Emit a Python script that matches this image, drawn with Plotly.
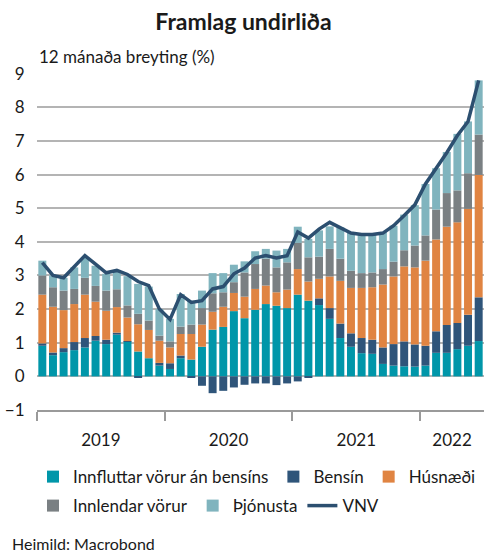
import plotly.graph_objects as go

months = list(range(42))  # Jan 2019 .. Jun 2022
year_labels = ["2019", "2020", "2021", "2022"]
year_centers = [5.5, 17.5, 29.5, 38.5]
year_bounds = [-0.5, 11.5, 23.5, 35.5]

innflutt = [0.91, 0.63, 0.72, 0.78, 0.86, 1.06, 0.96, 1.24, 1.04, 0.74, 0.54, 0.32,
            0.22, 0.54, 0.50, 0.88, 1.39, 1.47, 1.94, 1.73, 1.98, 2.15, 2.10, 2.03,
            2.43, 2.25, 2.12, 1.71, 1.14, 0.88, 0.69, 0.67, 0.37, 0.32, 0.30, 0.29,
            0.32, 0.70, 0.70, 0.81, 0.91, 1.05]
bensin = [0.07, 0.08, 0.12, 0.24, 0.28, 0.14, 0.13, 0.06, 0.01, -0.03, 0.0, 0.08,
          0.17, 0.08, -0.03, -0.28, -0.50, -0.43, -0.33, -0.25, -0.21, -0.21, -0.26, -0.21,
          -0.15, -0.02, 0.20, 0.32, 0.43, 0.40, 0.45, 0.42, 0.49, 0.64, 0.74, 0.66,
          0.59, 0.64, 0.83, 0.78, 0.92, 1.30]
husnaedi = [1.45, 1.36, 1.13, 1.13, 1.29, 1.02, 0.86, 0.76, 0.70, 0.81, 0.84, 0.66,
            0.47, 0.64, 0.76, 0.66, 0.53, 0.60, 0.54, 0.64, 0.62, 0.55, 0.40, 0.55,
            0.76, 0.57, 0.58, 0.94, 1.27, 1.35, 1.49, 1.56, 1.87, 2.01, 2.23, 2.29,
            2.53, 2.73, 2.92, 2.99, 3.15, 3.64]
innlendar = [0.57, 0.58, 0.58, 0.45, 0.50, 0.47, 0.60, 0.53, 0.36, 0.31, 0.28, 0.15,
             0.18, 0.22, 0.28, 0.49, 0.55, 0.43, 0.32, 0.72, 0.74, 0.80, 0.74, 0.81,
             0.78, 0.72, 0.66, 0.82, 0.66, 0.51, 0.44, 0.44, 0.46, 0.44, 0.48, 0.65,
             0.75, 0.89, 1.00, 0.95, 1.06, 1.20]
thjonusta = [0.44, 0.35, 0.38, 0.64, 0.59, 0.60, 0.50, 0.55, 0.87, 0.89, 1.01, 0.79,
             0.67, 0.97, 0.71, 0.52, 0.60, 0.57, 0.52, 0.33, 0.38, 0.29, 0.50, 0.40,
             0.48, 0.55, 0.78, 0.67, 0.93, 1.15, 1.15, 1.13, 1.10, 1.07, 1.06, 1.20,
             1.53, 1.23, 1.22, 1.68, 1.54, 1.61]
vnv = [3.38, 3.00, 2.93, 3.26, 3.59, 3.34, 3.08, 3.15, 3.03, 2.82, 2.70, 2.00,
       1.69, 2.43, 2.20, 2.25, 2.60, 2.67, 3.05, 3.22, 3.52, 3.59, 3.52, 3.59,
       4.29, 4.11, 4.38, 4.58, 4.43, 4.26, 4.22, 4.22, 4.26, 4.48, 4.78, 5.10,
       5.72, 6.17, 6.65, 7.16, 7.58, 8.80]

FONT = "Lato"
C_TEAL = "#0096A9"
C_DARK = "#2F557A"
C_ORANGE = "#E08442"
C_GRAY = "#7A8083"
C_LIGHT = "#80B4BE"
C_LINE = "#2C4F70"
GRID = "#b4b4b4"

fig = go.Figure()
series = [
    ("Innfluttar vörur án bensíns", innflutt, C_TEAL, "legend"),
    ("Bensín", bensin, C_DARK, "legend"),
    ("Húsnæði", husnaedi, C_ORANGE, "legend"),
    ("Innlendar vörur", innlendar, C_GRAY, "legend2"),
    ("Þjónusta", thjonusta, C_LIGHT, "legend2"),
]
for name, vals, col, lg in series:
    fig.add_trace(go.Bar(x=months, y=vals, name=name, marker_color=col,
                         marker_line_width=0, legend=lg))
fig.add_trace(go.Scatter(x=months, y=vnv, name="VNV", mode="lines",
                         line=dict(color=C_LINE, width=3.5), legend="legend2"))

fig.update_layout(
    width=487, height=554,
    margin=dict(l=37, r=3, t=73, b=144),
    barmode="relative", bargap=0.25,
    plot_bgcolor="white", paper_bgcolor="white",
    font=dict(family=FONT, size=17, color="#1a1a1a"),
    title=dict(text="<b>Framlag undirliða</b>", x=0.5, xanchor="center",
               y=1 - 22 / 554, yanchor="middle", font=dict(size=23, family=FONT)),
    showlegend=True,
    legend=dict(orientation="h", x=-4 / 447, xanchor="left", y=-0.199, yanchor="middle",
                font=dict(size=17, family=FONT), bgcolor="rgba(0,0,0,0)"),
    legend2=dict(orientation="h", x=-4 / 447, xanchor="left", y=-0.285, yanchor="middle",
                 font=dict(size=17, family=FONT), bgcolor="rgba(0,0,0,0)"),
    xaxis=dict(range=[-0.5, 41.5], tickmode="array", tickvals=year_centers,
               ticktext=year_labels, ticks="outside", ticklen=14,
               tickcolor="rgba(0,0,0,0)", showgrid=False, zeroline=False,
               showline=True, linecolor="#9a9a9a", linewidth=1.5,
               tickfont=dict(size=17),
               minor=dict(tickmode="array", tickvals=year_bounds, ticks="outside",
                          ticklen=9, tickwidth=1.5, tickcolor="#9a9a9a", showgrid=False)),
    yaxis=dict(range=[-1, 9.02], dtick=1, tick0=0, showgrid=True, gridcolor=GRID,
               gridwidth=1.5, zeroline=True, zerolinecolor=GRID, zerolinewidth=1.5,
               ticks="outside", ticklen=8, tickcolor="rgba(0,0,0,0)",
               tickfont=dict(size=17), showline=False),
    annotations=[
        dict(text="12 mánaða breyting (%)", xref="paper", yref="paper", x=0, y=1,
             xanchor="left", yanchor="bottom", yshift=4, showarrow=False,
             font=dict(size=17)),
        dict(text="Heimild: Macrobond", xref="paper", yref="paper", x=-27 / 447, y=0,
             xanchor="left", yanchor="middle", yshift=-(543 - 410), showarrow=False,
             font=dict(size=16)),
    ],
)
fig.write_html("out.html", config={"displayModeBar": False},
               post_script="document.body.style.margin='0';document.body.style.padding='0';")
